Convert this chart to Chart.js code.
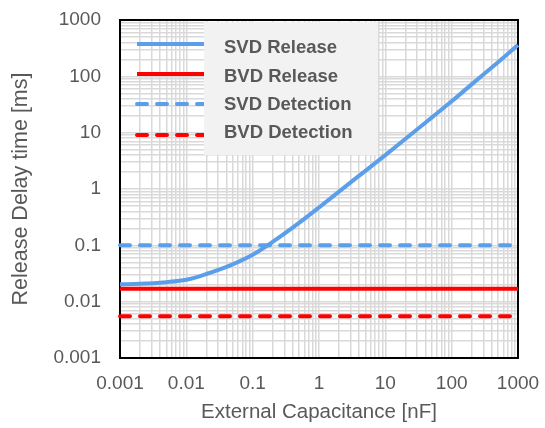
<!DOCTYPE html>
<html><head><meta charset="utf-8">
<script src="https://cdn.jsdelivr.net/npm/chart.js@4/dist/chart.umd.min.js"></script>
<style>html,body{margin:0;padding:0;background:#fff}</style>
</head><body>
<canvas id="c" width="545" height="428"></canvas>
<script>
// ---- data ----
const capacitance = [0.001, 0.002, 0.005, 0.01, 0.02, 0.05, 0.1, 0.2, 0.5, 1, 2, 5, 10, 20, 50, 100, 200, 500, 1000];
const svdRelease  = [0.0204, 0.0207, 0.0222, 0.0245, 0.031, 0.046, 0.068, 0.115, 0.25, 0.47, 0.9, 2.1, 4.0, 7.7, 18.5, 36, 72, 178, 360];
const bvdRelease  = [0.017, 0.017, 0.017, 0.017, 0.017, 0.017, 0.017, 0.017, 0.017, 0.017, 0.017, 0.017, 0.017, 0.017, 0.017, 0.017, 0.017, 0.017, 0.017];
const detectionX   = [0.001, 1000];
const svdDetection = [0.1, 0.1];
const bvdDetection = [0.0055, 0.0055];
const decadeTicks  = [0.001, 0.01, 0.1, 1, 10, 100, 1000];
const decadeLabels = ['0.001', '0.01', '0.1', '1', '10', '100', '1000'];
const minorSteps   = [1, 2, 3, 4, 5, 6, 7, 8, 9];
const seriesNames  = ['SVD Release', 'BVD Release', 'SVD Detection', 'BVD Detection'];

const BLUE = '#5b9ee9', RED = '#ff0000', TXT = '#595959', GRID = '#d9d9d9';
const FONT = "'Liberation Sans', Arial, sans-serif";

function pts(xs, ys) { return xs.map((x, i) => ({x: x, y: ys[i]})); }
function gridTicks() {
  const t = [];
  decadeTicks.forEach((d, i) => {
    if (i === decadeTicks.length - 1) { t.push({value: d}); return; }
    minorSteps.forEach(s => t.push({value: +(d * s).toPrecision(3)}));
  });
  return t;
}
function label(v) {
  const i = decadeTicks.findIndex(d => Math.abs(d - v) / d < 1e-6);
  return i >= 0 ? decadeLabels[i] : '';
}

const frame = {
  id: 'frame',
  beforeDatasetsDraw(chart) {
    const a = chart.chartArea, ctx = chart.ctx;
    ctx.save();
    ctx.strokeStyle = '#000'; ctx.lineWidth = 2;
    ctx.strokeRect(a.left, a.top, a.right - a.left, a.bottom - a.top);
    ctx.restore();
  }
};

const legendBox = {
  id: 'legendBox',
  afterDatasetsDraw(chart) {
    const ctx = chart.ctx;
    ctx.save();
    const ds = chart.data.datasets;
    const lineY = [44, 74, 104, 135];
    const textY = [48, 77, 105, 133];
    ds.forEach((d, i) => {
      ctx.beginPath();
      ctx.strokeStyle = d.borderColor;
      ctx.lineWidth = 4;
      ctx.lineCap = d.borderDash ? 'round' : 'butt';
      ctx.setLineDash(d.borderDash || []);
      ctx.moveTo(137, lineY[i]); ctx.lineTo(206, lineY[i]);
      ctx.stroke();
    });
    ctx.setLineDash([]);
    ctx.fillStyle = '#f2f2f2';
    ctx.fillRect(204, 22, 174, 133);
    ctx.fillStyle = TXT;
    ctx.font = "bold 18.5px " + FONT;
    ctx.textBaseline = 'middle';
    ctx.textAlign = 'left';
    ds.forEach((d, i) => ctx.fillText(d.label, 224, textY[i]));
    ctx.restore();
  }
};

new Chart(document.getElementById('c'), {
  type: 'line',
  data: {
    datasets: [
      {label: seriesNames[0], data: pts(capacitance, svdRelease), borderColor: BLUE, borderWidth: 4, cubicInterpolationMode: 'monotone', pointRadius: 0, clip: false},
      {label: seriesNames[1], data: pts(capacitance, bvdRelease), borderColor: RED, borderWidth: 4, pointRadius: 0, clip: false},
      {label: seriesNames[2], data: pts(detectionX, svdDetection), borderColor: BLUE, borderWidth: 4, borderDash: [10, 10], borderCapStyle: 'round', pointRadius: 0, clip: false},
      {label: seriesNames[3], data: pts(detectionX, bvdDetection), borderColor: RED, borderWidth: 4, borderDash: [10, 10], borderCapStyle: 'round', pointRadius: 0, clip: false}
    ]
  },
  options: {
    responsive: false,
    devicePixelRatio: 1,
    animation: false,
    layout: {padding: {left: 0, right: 27, top: 20, bottom: 0}},
    plugins: {legend: {display: false}, tooltip: {enabled: false}},
    scales: {
      x: {
        type: 'logarithmic', min: 0.001, max: 1000,
        afterBuildTicks: s => { s.ticks = gridTicks(); },
        afterFit: s => { s.height = 70; s.paddingLeft = 0; s.paddingRight = 0; },
        grid: {color: GRID, lineWidth: 1.5, drawTicks: false},
        border: {display: false},
        ticks: {autoSkip: false, maxRotation: 0, padding: 14, color: TXT, font: {family: FONT, size: 19}, callback: v => label(v)},
        title: {display: true, text: 'External Capacitance [nF]', color: TXT, font: {family: FONT, size: 20.5}, padding: {top: 0, bottom: 3}}
      },
      y: {
        type: 'logarithmic', min: 0.001, max: 1000,
        afterBuildTicks: s => { s.ticks = gridTicks(); },
        afterFit: s => { s.width = 120; s.paddingTop = 0; s.paddingBottom = 0; },
        grid: {color: GRID, lineWidth: 1.5, drawTicks: false},
        border: {display: false},
        ticks: {autoSkip: false, padding: 19, color: TXT, font: {family: FONT, size: 19}, callback: v => label(v)},
        title: {display: true, text: 'Release Delay time [ms]', color: TXT, font: {family: FONT, size: 21.5}, padding: {top: 8, bottom: 0}}
      }
    }
  },
  plugins: [frame, legendBox]
});
</script>
</body></html>
